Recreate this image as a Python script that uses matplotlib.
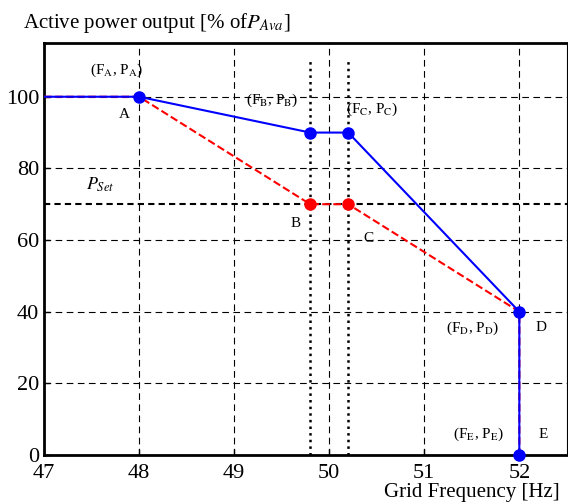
import matplotlib
matplotlib.use("Agg")
import matplotlib.pyplot as plt

plt.rcParams['font.family'] = ['Liberation Serif', 'DejaVu Serif']
plt.rcParams['mathtext.fontset'] = 'stix'

# characteristic points
freq_blue = [47, 48, 49.8, 50.2, 52, 52]
power_blue = [100, 100, 90, 90, 40, 0]
freq_red = [47, 48, 49.8, 50.2, 52, 52]
power_red = [100, 100, 70, 70, 40, 0]

blue_pts_f = [48, 49.8, 50.2, 52, 52]
blue_pts_p = [100, 90, 90, 40, 0]
red_pts_f = [49.8, 50.2]
red_pts_p = [70, 70]

p_set = 70
deadband = [49.8, 50.2]

x_ticks = [47, 48, 49, 50, 51, 52]
y_ticks = [0, 20, 40, 60, 80, 100]

fig = plt.figure(figsize=(5.68, 5.03), dpi=100)
ax = fig.add_axes([0.0775, 0.0954, 0.9205, 0.8191])

ax.set_xlim(47, 52.5)
ax.set_ylim(0, 115)
ax.set_xticks(x_ticks)
ax.set_xticklabels([str(t) for t in x_ticks], fontfamily='Liberation Serif')
ax.set_yticks(y_ticks)
ax.set_yticklabels([str(t) for t in y_ticks], fontfamily='Liberation Serif')
ax.grid(True, color='black', linestyle=(0, (6, 4)), linewidth=0.8)
ax.tick_params(direction='in', labelsize=16, length=4, width=1)
ax.tick_params(axis='x', pad=6.5)
for s in ['left', 'bottom', 'top']:
    ax.spines[s].set_linewidth(2)
ax.spines['right'].set_linewidth(0.8)

# P_set line
ax.axhline(p_set, color='black', linestyle=(0, (3, 2)), linewidth=1.5, zorder=2)

# deadband limits
for f in deadband:
    ax.plot([f, f], [0, 110], color='black', linestyle=':', linewidth=1.8, zorder=2)

ax.plot(freq_red, power_red, color='red', linestyle='--', linewidth=1.5, zorder=3)
ax.plot(freq_blue, power_blue, color='blue', linewidth=1.5, zorder=4)
ax.plot(blue_pts_f, blue_pts_p, 'o', color='blue', markersize=8, zorder=5, clip_on=False)
ax.plot(red_pts_f, red_pts_p, 'o', color='red', markersize=8, zorder=5)

fs = 11
ax.text(47.76, 107.5, r'(F$_\mathrm{A}$, P$_\mathrm{A}$)', fontsize=fs, ha='center', va='center')
ax.text(47.85, 95, 'A', fontsize=fs, ha='center', va='center')
ax.text(49.40, 99, r'(F$_\mathrm{B}$, P$_\mathrm{B}$)', fontsize=fs, ha='center', va='center')
ax.text(49.65, 64.5, 'B', fontsize=fs, ha='center', va='center')
ax.text(50.45, 96.5, r'(F$_\mathrm{C}$, P$_\mathrm{C}$)', fontsize=fs, ha='center', va='center')
ax.text(50.41, 60.5, 'C', fontsize=fs, ha='center', va='center')
ax.text(51.51, 35.5, r'(F$_\mathrm{D}$, P$_\mathrm{D}$)', fontsize=fs, ha='center', va='center')
ax.text(52.23, 35.5, 'D', fontsize=fs, ha='center', va='center')
ax.text(51.57, 5.8, r'(F$_\mathrm{E}$, P$_\mathrm{E}$)', fontsize=fs, ha='center', va='center')
ax.text(52.25, 5.6, 'E', fontsize=fs, ha='center', va='center')
ax.text(47.59, 75.5, r'$P_{Set}$', fontsize=13, ha='center', va='center')

fig.text(0.04, 0.955, r'Active power output [% of$P_{Ava}$]', fontsize=15, ha='left', va='center')
fig.text(0.985, 0.002, 'Grid Frequency [Hz]', fontsize=15, ha='right', va='bottom')

fig.savefig('out.png', dpi=100)
